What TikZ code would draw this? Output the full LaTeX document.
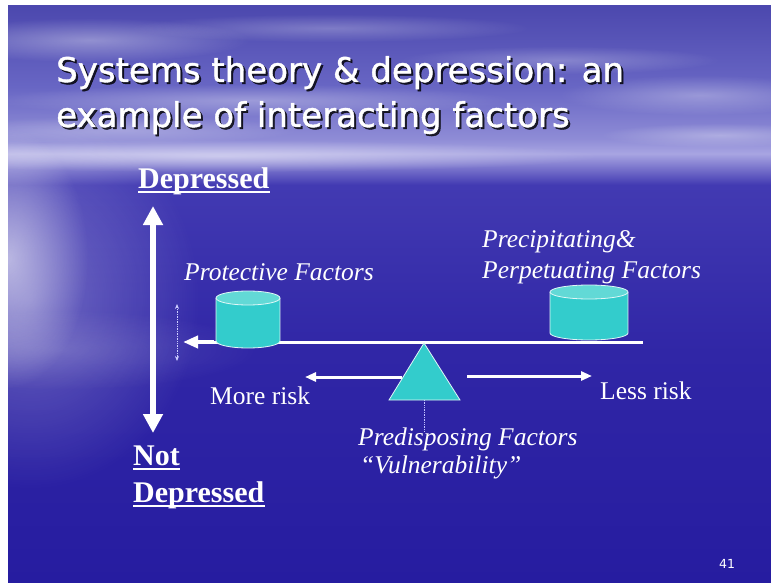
\documentclass[tikz,border=0pt]{standalone}
\usepackage{fontspec}
\setmainfont{Liberation Serif}
\newfontfamily\titlefont{DejaVu Sans}
\newfontfamily\titlefontb[FakeBold=1.2]{DejaVu Sans}
\usetikzlibrary{arrows.meta,fadings}

\definecolor{turq}{RGB}{51,204,204}
\definecolor{turqtop}{RGB}{98,217,214}
\definecolor{skytop}{RGB}{76,72,174}
\definecolor{skymid}{RGB}{104,102,196}
\definecolor{horizon}{RGB}{168,165,226}
\definecolor{seatop}{RGB}{66,58,178}
\definecolor{seamid}{RGB}{48,38,166}
\definecolor{seabot}{RGB}{38,28,160}

\pgfdeclareverticalshading{slidebg}{100bp}{color(0bp)=(seabot); color(25bp)=(seabot); color(45bp)=(seamid); color(59.5bp)=(seatop); color(62.2bp)=(horizon); color(63.5bp)=(horizon!60!skymid); color(68bp)=(skymid); color(75bp)=(skytop); color(100bp)=(skytop)}
\tikzfading[name=glowfade, inner color=transparent!0, outer color=transparent!100]

\tikzset{
  lbl/.style={inner sep=0pt, text=white, font=\fontsize{25.5}{30}\selectfont, anchor=base west},
  head/.style={inner sep=0pt, text=white, font=\fontsize{30}{34}\selectfont\bfseries, anchor=base west},
  ttl/.style={inner sep=0pt, font=\titlefontb\fontsize{34}{40}\selectfont, anchor=base west},
  ul/.style={white, line width=2.2pt},
  cloud/.style={white, path fading=glowfade, fill opacity=#1},
  bigarrow/.style={white, line width=6pt, {Triangle[length=19pt,width=19pt]}-{Triangle[length=19pt,width=19pt]}},
  riskarrow/.style={white, line width=3pt, -{Triangle[length=11pt,width=9pt]}},
  beam/.style={white, line width=3pt},
  cylline/.style={white!85!turq, line width=0.8pt},
  tinyarrow/.style={white!80!blue, line width=0.7pt, densely dotted, {Stealth[length=5pt,width=4pt]}-{Stealth[length=5pt,width=4pt]}},
  dotline/.style={white!75!blue, line width=0.7pt, densely dotted},
}

\newcommand\mycyl[5]{%
  % #1 cx, #2 top y, #3 bottom y, #4 rx, #5 ry
  \fill[turq] (#1-#4,#2) rectangle (#1+#4,#3);
  \fill[turq] (#1,#3) ellipse [x radius=#4, y radius=#5];
  \draw[cylline] (#1-#4,#2) -- (#1-#4,#3) arc[start angle=180, end angle=0, x radius=#4, y radius=#5] -- (#1+#4,#2);
  \filldraw[fill=turqtop, draw=white!85!turq, line width=0.8pt] (#1,#2) ellipse [x radius=#4, y radius=#5];
}

\begin{document}
\begin{tikzpicture}[x=1pt,y=-1pt]
\useasboundingbox (0,0) rectangle (771,583);
\fill[white] (0,0) rectangle (771,583);
\begin{scope}
  \clip (8,6) rectangle (771,583);
  \shade[shading=slidebg] (8,6) rectangle (771,583);
  % clouds in the sky
  \fill[cloud=0.35] (90,40) ellipse [x radius=160, y radius=22];
  \fill[cloud=0.25] (330,28) ellipse [x radius=200, y radius=14];
  \fill[cloud=0.30] (700,95) ellipse [x radius=140, y radius=20];
  \fill[cloud=0.25] (560,60) ellipse [x radius=160, y radius=14];
  \fill[cloud=0.30] (250,100) ellipse [x radius=260, y radius=16];
  \fill[cloud=0.25] (120,130) ellipse [x radius=180, y radius=14];
  \fill[cloud=0.30] (720,135) ellipse [x radius=120, y radius=12];
  % horizon glow
  \fill[cloud=0.45] (220,156) ellipse [x radius=380, y radius=16];
  % left glow on the water
  \fill[cloud=0.55] (8,258) ellipse [x radius=80, y radius=130];
  \fill[cloud=0.30] (30,300) ellipse [x radius=170, y radius=190];
  \fill[cloud=0.15] (60,350) ellipse [x radius=200, y radius=40];
\end{scope}

% title with shadow
\node[ttl, text=black, opacity=0.8] at (58,84) {Systems theory \& depression: an};
\node[ttl, text=black, opacity=0.8] at (58,129) {example of interacting factors};
\node[ttl, text=white] (title1) at (56,82) {Systems theory \& depression: an};
\node[ttl, text=white] (title2) at (56,127) {example of interacting factors};

% axis labels
\node[head] (dep) at (138,188) {Depressed};
\draw[ul] ([yshift=-4pt]dep.base west) -- ([yshift=-4pt]dep.base east);
\node[head] (not) at (133,465) {Not};
\draw[ul] ([yshift=-4pt]not.base west) -- ([yshift=-4pt]not.base east);
\node[head] (notdep) at (133,502) {Depressed};
\draw[ul] ([yshift=-4pt]notdep.base west) -- ([yshift=-4pt]notdep.base east);

% vertical double arrow
\coordinate (uptip) at (153,206);
\coordinate (downtip) at (153,433);
\draw[bigarrow] (uptip) -- (downtip);

% beam
\coordinate (beamL) at (214,342);
\coordinate (beamR) at (643,342);
\coordinate (beamtip) at (183,342);
\draw[beam] (beamL) -- (beamR);
\draw[white, line width=4pt, -{Triangle[length=15pt,width=12pt]}] (beamL) -- (beamtip);

% small dotted double arrow
\coordinate (tinytop) at (177,304);
\coordinate (tinybot) at (177,361);
\draw[tinyarrow] (tinytop) -- (tinybot);

% cylinders
\mycyl{248}{298}{341}{32}{7}
\mycyl{589}{292}{333}{39}{7}

% fulcrum
\coordinate (apex) at (424,343);
\coordinate (baseL) at (389,400);
\coordinate (baseR) at (460,400);
\coordinate (baseM) at (424,400);
\coordinate (dotend) at (424,432);
\draw[dotline] (baseM) -- (dotend);

% risk arrows
\coordinate (lstart) at (402,377);
\coordinate (ltip) at (305,377);
\coordinate (rstart) at (467,376);
\coordinate (rtip) at (592,376);
\draw[riskarrow] (lstart) -- (ltip);
\draw[riskarrow] (rstart) -- (rtip);
\filldraw[fill=turq, draw=white!85!turq, line width=0.8pt] (apex) -- (baseR) -- (baseL) -- cycle;

% labels
\node[lbl] (protect) at (184,280) {\itshape Protective Factors};
\node[lbl] (precip) at (482,247) {\itshape Precipitating\&};
\node[lbl] (perpet) at (482,278) {\itshape Perpetuating Factors};
\node[lbl] (more) at (210,404) {More risk};
\node[lbl] (less) at (600,399) {Less risk};
\node[lbl] (predis) at (358,445) {\itshape Predisposing Factors};
\node[lbl] (vuln) at (360,473) {\itshape ``Vulnerability''};

% slide number
\node[inner sep=0pt, text=white, font=\titlefont\fontsize{12.5}{14}\selectfont, anchor=base west] (num) at (719,568) {41};
\end{tikzpicture}
\end{document}
